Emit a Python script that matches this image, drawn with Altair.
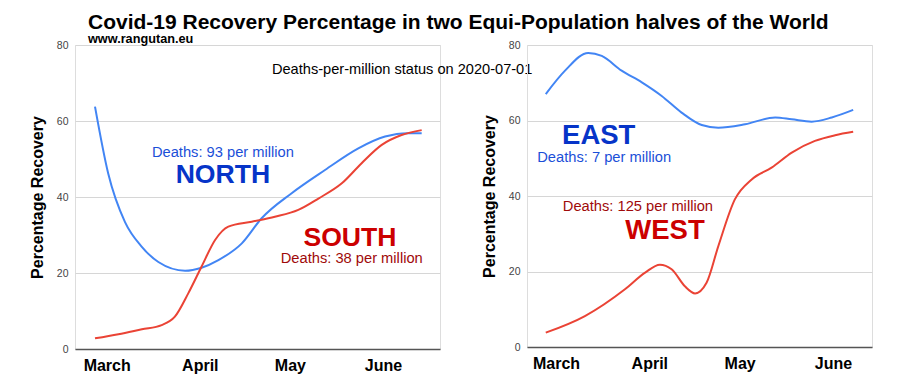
import altair as alt
import pandas as pd

# ---------------- data (days since 1 March 2020, % recovery) ----------------
north_days = [-3.9, 0.5, 6.1, 11.7, 17.2, 26.1, 31.6, 37.2, 45, 51.6, 61.6, 72.7, 83.8, 92.7, 100.3, 104.9]
north_vals = [63.8, 46.2, 33.4, 26.9, 22.9, 20.6, 21.4, 23.4, 27.8, 34.4, 41.0, 47.1, 52.8, 55.9, 56.8, 56.8]

south_days = [-3.9, 3.9, 11.7, 18.3, 22.7, 27.2, 31.6, 36.1, 40.5, 48.3, 56, 63.8, 70.5, 78.3, 84.9, 91.6, 98.2, 104.9]
south_vals = [2.8, 3.9, 5.2, 6.3, 8.5, 14.7, 21.7, 28.7, 32.2, 33.5, 34.8, 36.6, 39.6, 43.6, 48.9, 53.7, 56.3, 57.6]

east_days = [-3.4, 3.0, 10.7, 15.2, 21.8, 28.5, 35.1, 41.7, 48.4, 53.9, 62.8, 72.8, 78.3, 84.9, 91.6, 98.7]
east_vals = [67.0, 73.2, 77.9, 77.1, 73.2, 70.1, 66.5, 62.1, 58.8, 58.1, 59.0, 60.8, 60.3, 59.7, 60.8, 62.8]

west_days = [-3.4, 9.6, 22.9, 29.6, 34.5, 38.4, 42.8, 46.2, 50, 53.9, 59.4, 65, 71.6, 78.3, 86, 92.7, 98.7]
west_vals = [3.8, 8.2, 15.3, 19.7, 21.8, 20.6, 16.1, 14.2, 17.0, 26.7, 39.1, 44.4, 47.5, 51.5, 54.6, 56.1, 57.0]

month_days = [0, 31, 61, 92]
month_names = ["March", "April", "May", "June"]
y_ticks = [0, 20, 40, 60, 80]

# annotations: text, day, value
left_notes_text = ["Deaths: 93 per million", "NORTH", "SOUTH", "Deaths: 38 per million",
                   "Deaths-per-million status on 2020-07-01"]
left_notes_day = [38.7, 38.7, 81.0, 81.6, 98.4]
left_notes_val = [50.6, 43.6, 27.1, 22.6, 72.4]

right_notes_text = ["EAST", "Deaths: 7 per million", "Deaths: 125 per million", "WEST"]
right_notes_day = [14.2, 16.0, 27.2, 36.2]
right_notes_val = [53.7, 48.9, 35.9, 28.5]

title_text = "Covid-19 Recovery Percentage in two Equi-Population halves of the World"
site_text = "www.rangutan.eu"

# ---------------- styles ----------------
FONT = "Liberation Sans"
BLUE_LINE = "#4285F4"
RED_LINE = "#EA4335"
note_styles_left = [
    dict(size=14.7, weight="normal", color="#1b4fd8"),
    dict(size=26.6, weight="bold", color="#0634c8"),
    dict(size=26.6, weight="bold", color="#cc0000"),
    dict(size=14.7, weight="normal", color="#a00a0a"),
    dict(size=14.6, weight="normal", color="#000000"),
]
note_styles_right = [
    dict(size=27.5, weight="bold", color="#0634c8"),
    dict(size=14.7, weight="normal", color="#1b4fd8"),
    dict(size=14.7, weight="normal", color="#a00a0a"),
    dict(size=27.5, weight="bold", color="#cc0000"),
]

label_expr = "{" + ",".join(f"'{d}':'{n}'" for d, n in zip(month_days, month_names)) + "}[datum.value]"


def panel(series, xdomain, width, height, notes_text, notes_day, notes_val, styles):
    rows = []
    for name, days, vals in series:
        for d, v in zip(days, vals):
            rows.append({"series": name, "day": d, "value": v})
    df = pd.DataFrame(rows)
    names = [s[0] for s in series]
    x = alt.X("day:Q", scale=alt.Scale(domain=xdomain, nice=False, zero=False),
              axis=alt.Axis(values=month_days, labelExpr=label_expr, title=None, grid=False,
                            ticks=False, labelFont=FONT, labelFontSize=16, labelFontWeight="bold",
                            labelColor="#000000", labelPadding=8, domainColor="#555555",
                            domainWidth=1.5, labelFlush=False))
    y = alt.Y("value:Q", scale=alt.Scale(domain=[0, 80], nice=False),
              axis=alt.Axis(values=y_ticks, title="Percentage Recovery", titleFont=FONT,
                            titleFontSize=16, titleFontWeight="bold", titleColor="#000000",
                            titlePadding=11, labelFont=FONT, labelFontSize=10.5,
                            labelColor="#444444", labelPadding=7, ticks=False, domain=False,
                            gridColor="#d6d6d6", gridWidth=1))
    lines = alt.Chart(df).mark_line(interpolate="monotone", strokeWidth=2).encode(
        x=x, y=y,
        color=alt.Color("series:N", scale=alt.Scale(domain=names, range=[BLUE_LINE, RED_LINE]),
                        legend=None),
        detail="series:N",
    )
    layers = [lines]
    for t, d, v, st in zip(notes_text, notes_day, notes_val, styles):
        ndf = pd.DataFrame({"text": [t], "day": [d], "value": [v]})
        layers.append(
            alt.Chart(ndf).mark_text(font=FONT, fontSize=st["size"], fontWeight=st["weight"],
                                     color=st["color"], align="center", baseline="alphabetic")
            .encode(x=alt.X("day:Q", scale=alt.Scale(domain=xdomain, nice=False, zero=False)),
                    y=alt.Y("value:Q", scale=alt.Scale(domain=[0, 80], nice=False)),
                    text="text:N")
        )
    return alt.layer(*layers).properties(width=width, height=height)


left = panel([("North", north_days, north_vals), ("South", south_days, south_vals)],
             [-10.56, 111.0], 365, 304,
             left_notes_text, left_notes_day, left_notes_val, note_styles_left)
right = panel([("East", east_days, east_vals), ("West", west_days, west_vals)],
              [-9.63, 104.95], 345, 302,
              right_notes_text, right_notes_day, right_notes_val, note_styles_right)

chart = alt.hconcat(left, right, spacing=87, bounds="flush").properties(
    title=alt.TitleParams(text=title_text, subtitle=site_text, anchor="start", frame="group",
                          dx=13, offset=-6, font=FONT, fontSize=21, fontWeight="bold",
                          color="#000000", subtitleFont=FONT, subtitleFontSize=12.7,
                          subtitleFontWeight="bold", subtitleColor="#000000",
                          subtitlePadding=0),
    padding={"left": 20, "top": 3, "right": 0, "bottom": 0},
).configure_view(stroke=None).configure(background="white")

chart.save("out.html", embed_options={"renderer": "svg", "actions": False})
